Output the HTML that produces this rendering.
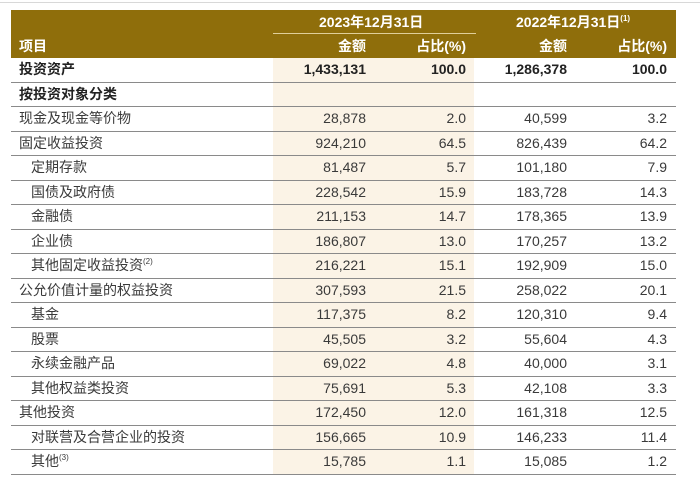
<!DOCTYPE html>
<html><head><meta charset="utf-8"><style>
body{margin:0;width:700px;height:477px;background:#fff;overflow:hidden;font-family:"Liberation Sans","Noto Sans CJK SC",sans-serif;color:#3a3a3a;}
#top{position:absolute;left:0;top:2px;width:700px;height:1px;background:#d8d8d8}
#hdr{position:absolute;left:11px;top:10px;width:665px;height:48px;background:#8f6e0b;color:#fff;font-weight:bold;font-size:14px}
#hdr div{position:absolute;line-height:22px;height:22px}
#beige{position:absolute;left:273px;top:58px;width:201px;height:417px;background:#fbf3e6}
.row{position:absolute;left:11px;width:665px;height:24.5px;border-bottom:1px solid #8a8a8a;box-sizing:border-box;font-size:14px}
.row span{position:absolute;top:0;line-height:23px;white-space:nowrap}
.b{font-weight:bold;color:#222}
sup{font-size:8px;vertical-align:6px;line-height:0}
</style></head><body>
<div id="top"></div>
<div id="hdr">
<div style="left:308px;top:1px">2023年12月31日</div>
<div style="left:262px;top:23px;width:203px;height:1px;background:#e0cf9a"></div>
<div style="left:505px;top:1px">2022年12月31日<sup>(1)</sup></div>
<div style="left:8px;top:25px">项目</div>
<div style="right:310px;top:25px">金额</div>
<div style="right:210px;top:25px">占比(%)</div>
<div style="right:109px;top:25px">金额</div>
<div style="right:9px;top:25px">占比(%)</div>
</div>
<div id="beige"></div>
<div id="rows"></div>
<script>
const labels=["投资资产","按投资对象分类","现金及现金等价物","固定收益投资","定期存款","国债及政府债","金融债","企业债","其他固定收益投资<sup>(2)</sup>","公允价值计量的权益投资","基金","股票","永续金融产品","其他权益类投资","其他投资","对联营及合营企业的投资","其他<sup>(3)</sup>"];
const indent=[0,0,0,0,1,1,1,1,1,0,1,1,1,1,0,1,1];
const bold=[1,1,0,0,0,0,0,0,0,0,0,0,0,0,0,0,0];
const amt23=["1,433,131","","28,878","924,210","81,487","228,542","211,153","186,807","216,221","307,593","117,375","45,505","69,022","75,691","172,450","156,665","15,785"];
const pct23=["100.0","","2.0","64.5","5.7","15.9","14.7","13.0","15.1","21.5","8.2","3.2","4.8","5.3","12.0","10.9","1.1"];
const amt22=["1,286,378","","40,599","826,439","101,180","183,728","178,365","170,257","192,909","258,022","120,310","55,604","40,000","42,108","161,318","146,233","15,085"];
const pct22=["100.0","","3.2","64.2","7.9","14.3","13.9","13.2","15.0","20.1","9.4","4.3","3.1","3.3","12.5","11.4","1.2"];
const c=document.getElementById('rows');
labels.forEach((l,i)=>{
 const r=document.createElement('div');
 r.className='row'+(bold[i]?' b':'');
 
 
 r.style.top=(58+i*24.53)+'px';
 r.innerHTML='<span style="left:'+(8+indent[i]*12)+'px">'+l+'</span>'+
 '<span style="right:310px">'+amt23[i]+'</span><span style="right:210px">'+pct23[i]+'</span>'+
 '<span style="right:109px">'+amt22[i]+'</span><span style="right:9px">'+pct22[i]+'</span>';
 c.appendChild(r);
});
</script>
</body></html>
